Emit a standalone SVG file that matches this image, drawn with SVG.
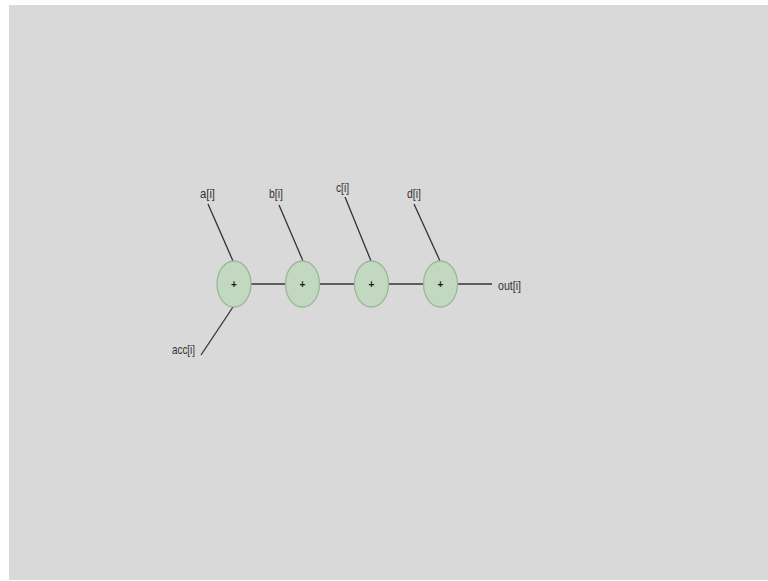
<svg xmlns="http://www.w3.org/2000/svg" width="768" height="581" viewBox="0 0 768 581">
<style>
.bg{fill:#d9d9d9}
.node ellipse{fill:#c2d8c0;stroke:#9cb898;stroke-width:1.3}
.plus{font-family:"Liberation Sans",Arial,sans-serif;font-size:10px;font-weight:bold;fill:#1a1a1a;text-anchor:middle}
.lbl{font-family:"Liberation Sans",Arial,sans-serif;font-size:13px;fill:#333}
#connectors line{stroke:#333;stroke-width:1.3}
</style>
<rect x="0" y="0" width="768" height="581" fill="#ffffff"/>
<rect class="bg" x="9" y="5" width="759" height="575"/>
<g id="connectors">
<line x1="208" y1="204" x2="233" y2="261"/>
<line x1="279" y1="205" x2="303" y2="261"/>
<line x1="345" y1="197" x2="371" y2="261"/>
<line x1="414" y1="204" x2="440" y2="261"/>
<line x1="233" y1="307" x2="201" y2="355"/>
<line x1="251" y1="284" x2="285" y2="284"/>
<line x1="320" y1="284" x2="354" y2="284"/>
<line x1="389" y1="284" x2="423" y2="284"/>
<line x1="458" y1="284" x2="492" y2="284"/>
</g>
<g id="n1" class="node"><ellipse cx="234" cy="284" rx="17" ry="23"/><text class="plus" x="234" y="287.5">+</text></g>
<g id="n2" class="node"><ellipse cx="302.5" cy="284" rx="17" ry="23"/><text class="plus" x="302.5" y="287.5">+</text></g>
<g id="n3" class="node"><ellipse cx="371.5" cy="284" rx="17" ry="23"/><text class="plus" x="371.5" y="287.5">+</text></g>
<g id="n4" class="node"><ellipse cx="440.5" cy="284" rx="17" ry="23"/><text class="plus" x="440.5" y="287.5">+</text></g>
<g id="labels">
<text class="lbl" x="200" y="198" textLength="15" lengthAdjust="spacingAndGlyphs">a[i]</text>
<text class="lbl" x="269" y="198" textLength="14" lengthAdjust="spacingAndGlyphs">b[i]</text>
<text class="lbl" x="336" y="192" textLength="13" lengthAdjust="spacingAndGlyphs">c[i]</text>
<text class="lbl" x="407" y="198" textLength="14" lengthAdjust="spacingAndGlyphs">d[i]</text>
<text class="lbl" x="498" y="290" textLength="23" lengthAdjust="spacingAndGlyphs">out[i]</text>
<text class="lbl" x="172" y="354" textLength="23" lengthAdjust="spacingAndGlyphs">acc[i]</text>
</g>
</svg>
